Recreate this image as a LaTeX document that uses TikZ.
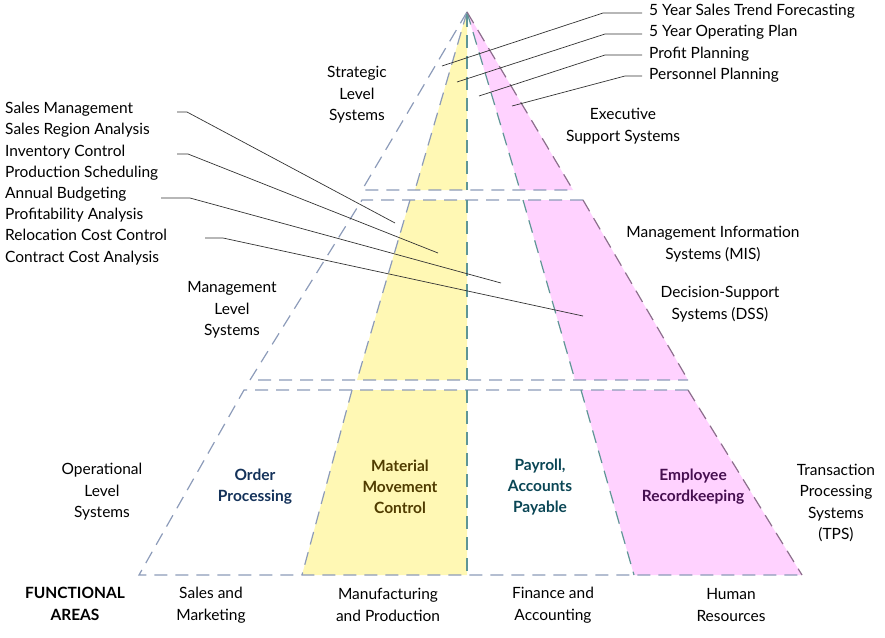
\documentclass[tikz,border=0pt]{standalone}
\usepackage{fontspec}
\setmainfont{Lato}
\begin{document}
\begin{tikzpicture}[x=1pt,y=-1pt,
  dl/.style={dashed,dash pattern=on 13pt off 8pt,line width=1.2pt},
  bl/.style={dl,draw={rgb,255:red,140;green,155;blue,185}},
  tl/.style={dl,draw={rgb,255:red,95;green,150;blue,150}},
  pl/.style={dl,draw={rgb,255:red,140;green,110;blue,140}},
  lbl/.style={font=\fontsize{15.5}{21.5}\selectfont,align=center,inner sep=0pt},
  inl/.style={font=\fontsize{15.5}{21}\selectfont\bfseries,align=center,inner sep=0pt},
  ll/.style={font=\fontsize{15.5}{21.2}\selectfont,align=left,inner sep=0pt,anchor=north west},
  lead/.style={draw=black!80,line width=0.7pt}]
\useasboundingbox (0,0) rectangle (885,637);
\definecolor{yel}{HTML}{FFF8B4}
\definecolor{mag}{HTML}{FFD2FF}
% fills
\fill[yel] (467,12) -- (415,190) -- (467,190) -- cycle;
\fill[mag] (467,12) -- (520,190) -- (573,190) -- cycle;
\fill[yel] (410,200) -- (357,380) -- (467,380) -- (467,200) -- cycle;
\fill[mag] (523,200) -- (575,380) -- (688,380) -- (583,200) -- cycle;
\fill[yel] (352,390) -- (302,575) -- (467,575) -- (467,390) -- cycle;
\fill[mag] (581,390) -- (634,575) -- (802,575) -- (688,390) -- cycle;
% top tier
\coordinate (apex) at (467,12);
\draw[bl] (apex) -- (362,190) -- (573,190);
\draw[bl] (apex) -- (415,190);
\draw[tl] (apex) -- (520,190);
\draw[pl] (apex) -- (573,190);
\draw[tl] (467,14) -- (467,190);
% middle tier
\draw[bl] (583,200) -- (362,200) -- (250,380) -- (688,380);
\draw[bl] (410,200) -- (357,380);
\draw[tl] (523,200) -- (575,380);
\draw[pl] (583,200) -- (688,380);
\draw[tl] (467,200) -- (467,380);
% bottom tier
\draw[bl] (688,390) -- (244,390) -- (139,575) -- (802,575);
\draw[bl] (352,390) -- (302,575);
\draw[tl] (581,390) -- (634,575);
\draw[pl] (688,390) -- (802,575);
\draw[tl] (467,390) -- (467,575);
% labels
\node[lbl] (strat) at (357,95) {Strategic\\Level\\Systems};
\node[lbl] (ess) at (623,126) {Executive\\Support Systems};
\node[lbl] (mis) at (713,244) {Management Information\\Systems (MIS)};
\node[lbl] (dss) at (720,304) {Decision-Support\\Systems (DSS)};
\node[lbl] (mls) at (232,310) {Management\\Level\\Systems};
\node[lbl] (ols) at (102,492) {Operational\\Level\\Systems};
\node[lbl] (tps) at (836,503) {Transaction\\Processing\\Systems\\(TPS)};
\node[lbl,font=\fontsize{15.5}{21.5}\selectfont\bfseries] (fa) at (75,604) {FUNCTIONAL\\AREAS};
\node[lbl] (sm) at (211,605) {Sales and\\Marketing};
\node[lbl] (mp) at (388,605) {Manufacturing\\and Production};
\node[lbl] (fi) at (553,605) {Finance and\\Accounting};
\node[lbl] (hr) at (731,605) {Human\\Resources};
\node[inl,text={rgb,255:red,20;green,50;blue,90}] (op) at (255,487) {Order\\Processing};
\node[inl,text={rgb,255:red,80;green,60;blue,0}] (mmc) at (400,487) {Material\\Movement\\Control};
\node[inl,text={rgb,255:red,10;green,70;blue,85}] (pay) at (540,487) {Payroll,\\Accounts\\Payable};
\node[inl,text={rgb,255:red,70;green,15;blue,80}] (emp) at (693,487) {Employee\\Recordkeeping};
% lists
\node[ll] (r1) at (649,4) {5 Year Sales Trend Forecasting\\5 Year Operating Plan\\Profit Planning\\Personnel Planning};
\node[ll] (l1) at (5,102) {Sales Management\\Sales Region Analysis\\Inventory Control\\Production Scheduling\\Annual Budgeting\\Profitability Analysis\\Relocation Cost Control\\Contract Cost Analysis};
% leaders right
\coordinate (a1) at (442,66); \coordinate (a2) at (457,82);
\coordinate (a3) at (479,96); \coordinate (a4) at (512,106);
\draw[lead] (642,13) -- (603,13) -- (a1);
\draw[lead] (642,34) -- (605,34) -- (a2);
\draw[lead] (642,55) -- (605,55) -- (a3);
\draw[lead] (642,76) -- (625,76) -- (a4);
% leaders left
\coordinate (b1) at (395,223); \coordinate (b2) at (438,253);
\coordinate (b3) at (501,283); \coordinate (b4) at (583,316);
\draw[lead] (177,112) -- (187,112) -- (b1);
\draw[lead] (177,154) -- (188,154) -- (b2);
\draw[lead] (161,198) -- (190,198) -- (b3);
\draw[lead] (205,238) -- (223,238) -- (b4);
\end{tikzpicture}
\end{document}
